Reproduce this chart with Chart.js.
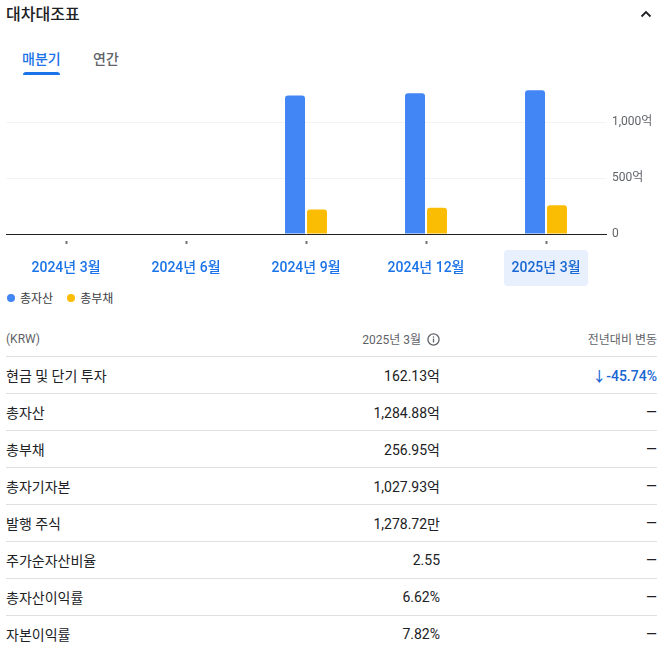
<!DOCTYPE html>
<html lang="ko">
<head>
<meta charset="utf-8">
<title>대차대조표</title>
<script src="https://cdn.jsdelivr.net/npm/chart.js@4.4.1/dist/chart.umd.min.js"></script>
<style>
  html, body { margin: 0; padding: 0; background: #fff; }
  body {
    width: 666px; height: 650px; position: relative; overflow: hidden;
    font-family: Roboto, "Noto Sans CJK KR", sans-serif; color: #202124;
  }
  .title { position: absolute; left: 6px; top: 4px; font-size: 16px; font-weight: 500; line-height: 22px; }
  .caret { position: absolute; left: 640px; top: 9px; }
  .tab { position: absolute; top: 49px; font-size: 14px; font-weight: 500; line-height: 20px; }
  .tab.on { left: 22px; color: #1a73e8; }
  .tab.off { left: 93px; color: #5f6368; }
  .tabline { position: absolute; left: 23px; top: 72px; width: 37px; height: 3px; background: #1a73e8; border-radius: 3px 3px 0 0; }
  #wrap { position: absolute; left: 0; top: 71px; width: 666px; height: 219px; }
  .legend { position: absolute; left: 7px; top: 291px; font-size: 12px; color: #3c4043; line-height: 16px; }
  .legend span.item { margin-right: 14px; }
  .legend i { display: inline-block; width: 8px; height: 8px; border-radius: 50%; margin-right: 5px; vertical-align: 1px; }
  table { position: absolute; left: 6px; top: 321px; width: 651px; border-collapse: collapse; }
  th { font-size: 12px; font-weight: 400; color: #5f6368; height: 35px; padding: 0; }
  td { font-size: 14px; height: 36px; padding: 0; border-top: 1px solid #e0e0e0; }
  .l { text-align: left; }
  .r { text-align: right; }
  td.v { width: 120px; }
  td.c { width: 217px; }
  .down { color: #1967d2; font-weight: 500; }
  .info { display: inline-block; vertical-align: -2px; margin-left: 6px; }
</style>
</head>
<body>
<div class="title">대차대조표</div>
<svg class="caret" width="12" height="10" viewBox="0 0 12 10"><polyline points="1.5,7.5 6,3 10.5,7.5" fill="none" stroke="#202124" stroke-width="1.8"/></svg>
<div class="tab on">매분기</div>
<div class="tab off">연간</div>
<div class="tabline"></div>

<div id="wrap"><canvas id="chart"></canvas></div>
<div class="legend" id="legend"></div>

<table id="tbl">
  <thead>
    <tr>
      <th class="l">(KRW)</th>
      <th class="r">2025년 3월<svg class="info" width="13" height="13" viewBox="0 0 14 14"><circle cx="7" cy="7" r="6" fill="none" stroke="#5f6368" stroke-width="1.4"/><rect x="6.3" y="6" width="1.4" height="4.2" fill="#5f6368"/><rect x="6.3" y="3.6" width="1.4" height="1.4" fill="#5f6368"/></svg></th>
      <th class="r">전년대비 변동</th>
    </tr>
  </thead>
  <tbody id="rows"></tbody>
</table>

<script>
// Chart data
var periods = ["2024년 3월", "2024년 6월", "2024년 9월", "2024년 12월", "2025년 3월"];
var totalAssets = [null, null, 1240, 1260, 1284.88];
var totalLiabilities = [null, null, 220, 235, 256.95];
var seriesNames = ["총자산", "총부채"];
var seriesColors = ["#4285f4", "#fbbc04"];
var yTicks = [0, 500, 1000];
var yTickLabels = ["0", "500억", "1,000억"];

// Table data
var rowLabels = ["현금 및 단기 투자", "총자산", "총부채", "총자기자본", "발행 주식", "주가순자산비율", "총자산이익률", "자본이익률"];
var rowValues = ["162.13억", "1,284.88억", "256.95억", "1,027.93억", "1,278.72만", "2.55", "6.62%", "7.82%"];
var rowChanges = ["↓-45.74%", "—", "—", "—", "—", "—", "—", "—"];

var fontFamily = "Roboto, 'Noto Sans CJK KR', sans-serif";

// highlight box behind the selected period label
var highlight = {
    id: 'highlight',
    beforeDraw: function (chart) {
        var x = chart.scales.x;
        var c = chart.ctx;
        var cx = x.getPixelForTick(periods.length - 1);
        var w = 84, h = 36, r = 4;
        var top = x.top + 16;
        c.save();
        c.fillStyle = '#e8f0fe';
        c.beginPath();
        c.roundRect(cx - w / 2, top, w, h, r);
        c.fill();
        c.restore();
    }
};

var ctx = document.getElementById("chart");

var chartGraph = new Chart(ctx, {
    type: 'bar',
    data: {
        labels: periods,
        datasets: [{
            label: seriesNames[0],
            data: totalAssets,
            backgroundColor: seriesColors[0],
            borderRadius: 3,
            categoryPercentage: 0.366,
            barPercentage: 0.91
        },
        {
            label: seriesNames[1],
            data: totalLiabilities,
            backgroundColor: seriesColors[1],
            borderRadius: 3,
            categoryPercentage: 0.366,
            barPercentage: 0.91
        }]
    },
    options: {
        responsive: true,
        maintainAspectRatio: false,
        animation: false,
        layout: { padding: { left: 6, right: 0, top: 1, bottom: 13 } },
        plugins: {
            legend: { display: false },
            tooltip: { enabled: false }
        },
        scales: {
            x: {
                afterFit: function (scale) { scale.height = 43; },
                grid: {
                    offset: false,
                    drawOnChartArea: false,
                    tickLength: 10,
                    tickWidth: 2,
                    tickColor: '#70757a',
                    tickBorderDash: [0, 6, 3, 40]
                },
                border: { display: true, color: '#202124', width: 1 },
                ticks: {
                    padding: 16,
                    color: function (c) { return c.index === periods.length - 1 ? '#1967d2' : '#1a73e8'; },
                    font: { family: fontFamily, size: 14, weight: 500 }
                }
            },
            y: {
                position: 'right',
                min: 0,
                max: 1340,
                afterBuildTicks: function (scale) {
                    scale.ticks = yTicks.map(function (v) { return { value: v }; });
                },
                afterFit: function (scale) { scale.width = 60; },
                border: { display: false },
                grid: {
                    drawTicks: false,
                    color: function (c) { return c.tick && c.tick.value === 0 ? 'rgba(0,0,0,0)' : '#f1f3f4'; }
                },
                ticks: {
                    padding: 6,
                    color: '#5f6368',
                    font: { family: fontFamily, size: 12 },
                    callback: function (v) { return yTickLabels[yTicks.indexOf(v)]; }
                }
            }
        }
    },
    plugins: [highlight]
});

// legend from the series
var lg = document.getElementById('legend');
seriesNames.forEach(function (n, i) {
    var s = document.createElement('span');
    s.className = 'item';
    s.innerHTML = '<i style="background:' + seriesColors[i] + '"></i>' + n;
    lg.appendChild(s);
});

// table rows
var tb = document.getElementById('rows');
rowLabels.forEach(function (n, i) {
    var tr = document.createElement('tr');
    var cls = rowChanges[i].charAt(0) === '↓' ? 'r c down' : 'r c';
    tr.innerHTML = '<td class="l">' + n + '</td><td class="r v">' + rowValues[i] + '</td><td class="' + cls + '">' + rowChanges[i] + '</td>';
    tb.appendChild(tr);
});
</script>
</body>
</html>
